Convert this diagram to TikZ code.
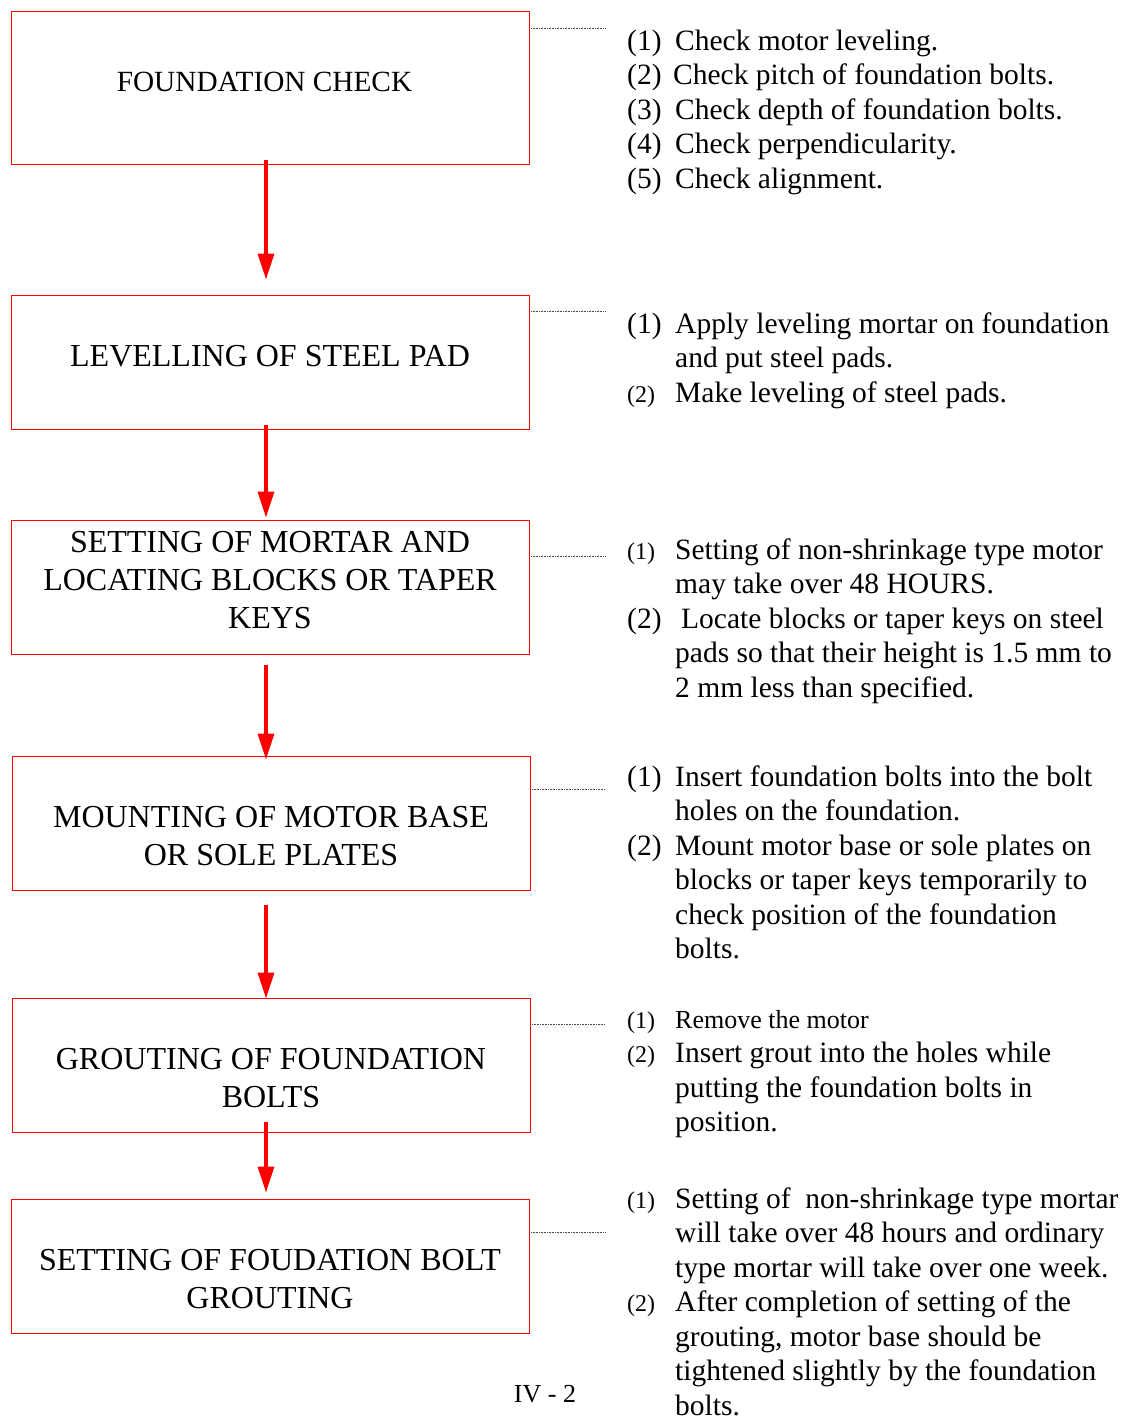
\documentclass[tikz,border=0pt]{standalone}
\usepackage{fontspec}
\setmainfont{Liberation Serif}
\usetikzlibrary{arrows.meta}
\newcommand\smallnum[1]{{\fontsize{24}{24}\selectfont #1}}
\begin{document}
\begin{tikzpicture}[x=1pt,y=-1pt,
 box/.style={draw=red,line width=0.8pt,minimum width=518pt,inner sep=0pt,rectangle},
 btext/.style={align=center,font=\fontsize{32}{38}\selectfont,inner sep=0pt},
 flow/.style={draw=red,line width=3.2pt,-{Triangle[width=16pt,length=26pt]}},
 lead/.style={draw=gray!60!black,line width=0.6pt,dash pattern=on 0.8pt off 0.8pt},
 lst/.style={anchor=base west,inner sep=0pt,font=\fontsize{29.5}{34.5}\selectfont}]
\useasboundingbox (0,0) rectangle (1123,1416);

% boxes
\node[box,minimum height=153pt] (b1) at (270,87.5) {};
\node[box,minimum height=134pt] (b2) at (270,362) {};
\node[box,minimum height=134pt] (b3) at (270,587) {};
\node[box,minimum height=134pt] (b4) at (271,823) {};
\node[box,minimum height=134pt] (b5) at (271,1065) {};
\node[box,minimum height=134pt] (b6) at (270,1266) {};

% box texts
\node[btext,font=\fontsize{29.3}{34}\selectfont] (t1) at (264.5,82) {FOUNDATION CHECK};
\node[btext] (t2) at (270,356) {LEVELLING OF STEEL PAD};
\node[btext] (t3) at (270,580) {SETTING OF MORTAR AND\\LOCATING BLOCKS OR TAPER\\KEYS};
\node[btext] (t4) at (271,836) {MOUNTING OF MOTOR BASE\\OR SOLE PLATES};
\node[btext] (t5) at (271,1078) {GROUTING OF FOUNDATION\\BOLTS};
\node[btext] (t6) at (270,1279) {SETTING OF FOUDATION BOLT\\GROUTING};

% flow arrows
\draw[flow] ([xshift=-4pt,yshift=4pt]b1.south) -- ([xshift=-4pt,yshift=15pt]b2.north);
\draw[flow] ([xshift=-4pt,yshift=4pt]b2.south) -- ([xshift=-4pt,yshift=2pt]b3.north);
\draw[flow] ([xshift=-4pt,yshift=-11pt]b3.south) -- ([xshift=-5pt,yshift=-4pt]b4.north);
\draw[flow] ([xshift=-5pt,yshift=-15pt]b4.south) -- ([xshift=-5pt,yshift=-1pt]b5.north);
\draw[flow] ([xshift=-5pt,yshift=10pt]b5.south) -- ([xshift=-4pt,yshift=6pt]b6.north);

% leader lines
\draw[lead] ([yshift=-18pt]b1.north east) -- ++(76,0);
\draw[lead] ([yshift=-17pt]b2.north east) -- ++(76,0);
\draw[lead] ([yshift=-37pt]b3.north east) -- ++(76,0);
\draw[lead] ([yshift=-34pt]b4.north east) -- ++(75,0);
\draw[lead] ([yshift=-27pt]b5.north east) -- ++(75,0);
\draw[lead] ([yshift=-34pt]b6.north east) -- ++(76,0);

% lists
\node[lst] (l1) at (627,50) {\begin{tabular}[t]{@{}p{48pt}@{}l@{}}
(1) & Check motor leveling.\\
(2) & \hspace{-2pt}Check pitch of foundation bolts.\\
(3) & Check depth of foundation bolts.\\
(4) & Check perpendicularity.\\
(5) & Check alignment.
\end{tabular}};

\node[lst] (l2) at (627,333) {\begin{tabular}[t]{@{}p{48pt}@{}l@{}}
(1) & Apply leveling mortar on foundation\\
 & and put steel pads.\\
\smallnum{(2)} & Make leveling of steel pads.
\end{tabular}};

\node[lst] (l3) at (627,559) {\begin{tabular}[t]{@{}p{48pt}@{}l@{}}
\smallnum{(1)} & Setting of non-shrinkage type motor\\
 & may take over 48 HOURS.\\
(2) & \hspace{6pt}Locate blocks or taper keys on steel\\
 & pads so that their height is 1.5 mm to\\
 & 2 mm less than specified.
\end{tabular}};

\node[lst] (l4) at (627,786) {\begin{tabular}[t]{@{}p{48pt}@{}l@{}}
(1) & Insert foundation bolts into the bolt\\
 & holes on the foundation.\\
(2) & Mount motor base or sole plates on\\
 & blocks or taper keys temporarily to\\
 & check position of the foundation\\
 & bolts.
\end{tabular}};

\node[lst] (l5) at (627,1028) {\begin{tabular}[t]{@{}p{48pt}@{}l@{}}
\smallnum{(1)} & {\fontsize{26}{26}\selectfont Remove the motor}\\
\smallnum{(2)} & Insert grout into the holes while\\
 & putting the foundation bolts in\\
 & position.
\end{tabular}};

\node[lst] (l6) at (627,1208) {\begin{tabular}[t]{@{}p{48pt}@{}l@{}}
\smallnum{(1)} & Setting of\ \ non-shrinkage type mortar\\
 & will take over 48 hours and ordinary\\
 & type mortar will take over one week.\\
\smallnum{(2)} & After completion of setting of the\\
 & grouting, motor base should be\\
 & tightened slightly by the foundation\\
 & bolts.
\end{tabular}};

% page number
\node[inner sep=0pt,font=\fontsize{26}{30}\selectfont] (pg) at (545,1394) {IV - 2};
\end{tikzpicture}
\end{document}
